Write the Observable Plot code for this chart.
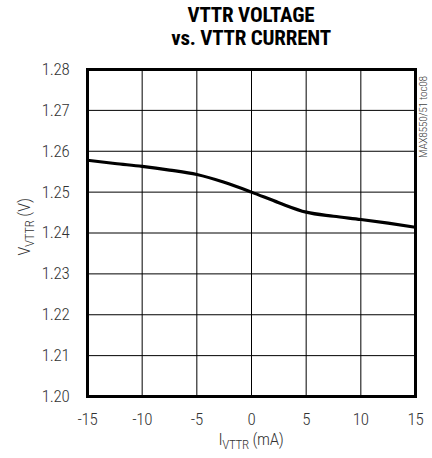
<!DOCTYPE html>
<html>
<head>
<meta charset="utf-8">
<script src="https://cdn.jsdelivr.net/npm/d3@7"></script>
<script src="https://cdn.jsdelivr.net/npm/@observablehq/plot@0.6"></script>
<style>
  html, body { margin: 0; padding: 0; background: #fff; }
  body { width: 432px; height: 458px; overflow: hidden; font-family: "Roboto Condensed", Roboto, sans-serif; }
  #title { height: 52px; width: 328px; margin-left: 87px; text-align: center; font-family: "Roboto Condensed", Roboto, sans-serif; font-stretch: condensed; font-weight: bold; font-size: 21px; line-height: 23px; padding-top: 4px; box-sizing: border-box; color: #000; letter-spacing: -0.2px; }
</style>
</head>
<body>
<div id="title">VTTR VOLTAGE<br>vs. VTTR CURRENT</div>
<div id="chart"></div>
<script>
const current = [-15, -12.5, -10, -7.5, -5, -2.5, 0, 2.5, 5, 7.5, 10, 12.5, 15];
const voltage = [1.2578, 1.2570, 1.2563, 1.2554, 1.2543, 1.2524, 1.2500, 1.2474, 1.2451, 1.2441, 1.2433, 1.2424, 1.2414];
const xTicks = [-15, -10, -5, 0, 5, 10, 15];
const yTicks = [1.20, 1.21, 1.22, 1.23, 1.24, 1.25, 1.26, 1.27, 1.28];

const data = current.map((c, i) => ({c, v: voltage[i]}));
const fam = '"Roboto Condensed", Roboto, sans-serif';

const plot = Plot.plot({
  width: 432,
  height: 406,
  marginTop: 17,
  marginBottom: 62,
  marginLeft: 87,
  marginRight: 17,
  style: {fontFamily: fam, fontSize: "17px", color: "#333", fontWeight: 300, letterSpacing: "-0.3px"},
  x: {domain: [-15, 15], ticks: xTicks, tickSize: 0, tickPadding: 16, label: null, tickFormat: d => String(d)},
  y: {domain: [1.20, 1.28], ticks: yTicks, tickSize: 0, tickPadding: 18, tickFormat: d3.format(".2f"), label: null},
  marks: [
    Plot.ruleX(xTicks, {stroke: "#000", strokeWidth: 1}),
    Plot.ruleY(yTicks, {stroke: "#000", strokeWidth: 1}),
    Plot.line(data, {x: "c", y: "v", stroke: "#000", strokeWidth: 3.2, curve: "monotone-x"}),
    Plot.frame({stroke: "#000", strokeWidth: 3})
  ]
});
document.getElementById("chart").appendChild(plot);

const svg = d3.select(plot);

// x axis label
const xl = svg.append("text")
  .attr("x", 251).attr("y", 393)
  .attr("text-anchor", "middle")
  .attr("font-family", fam).attr("font-size", 17).attr("font-weight", 300).attr("fill", "#333");
xl.append("tspan").text("I");
xl.append("tspan").attr("font-size", 13).attr("dy", 4).text("VTTR");
xl.append("tspan").attr("dy", -4).text(" (mA)");

// y axis label
const yl = svg.append("text")
  .attr("transform", "translate(30,175) rotate(-90)")
  .attr("text-anchor", "middle")
  .attr("font-family", fam).attr("font-size", 17).attr("font-weight", 300).attr("fill", "#333");
yl.append("tspan").text("V");
yl.append("tspan").attr("font-size", 13).attr("dy", 4).text("VTTR");
yl.append("tspan").attr("dy", -4).text(" (V)");

// side note
svg.append("text")
  .attr("transform", "translate(427,106) rotate(-90)")
  .attr("text-anchor", "start")
  .attr("font-family", fam).attr("font-size", 11.5).attr("font-weight", 300).attr("fill", "#444")
  .text("MAX8550/51 toc08");
</script>
</body>
</html>
